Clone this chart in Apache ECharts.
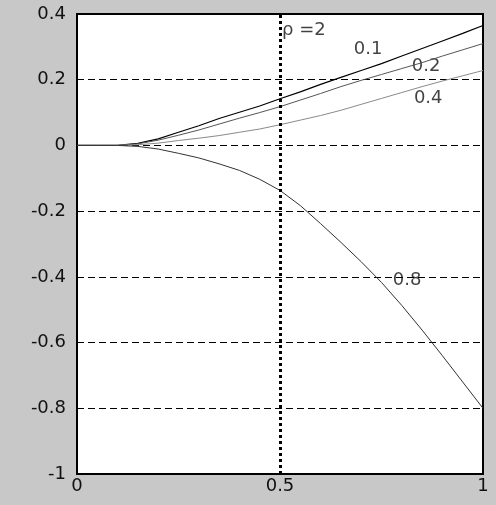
<!DOCTYPE html>
<html>
<head>
<meta charset="utf-8">
<script src="https://cdn.jsdelivr.net/npm/echarts@6/dist/echarts.min.js"></script>
<style>
  html, body { margin: 0; padding: 0; background: #c8c8c8; }
  #chart { width: 496px; height: 505px; }
</style>
</head>
<body>
<div id="chart"></div>
<script>
// x positions (shared by all curves)
const xs = [0, 0.05, 0.1, 0.15, 0.2, 0.25, 0.3, 0.35, 0.4, 0.45, 0.5,
            0.55, 0.6, 0.65, 0.7, 0.75, 0.8, 0.85, 0.9, 0.95, 1];
// curves, one per parameter value
const curve01 = [0, 0, 0, 0.006, 0.02, 0.04, 0.06, 0.082, 0.101, 0.12, 0.142,
                 0.163, 0.186, 0.207, 0.228, 0.249, 0.272, 0.295, 0.318, 0.341, 0.365];
const curve02 = [0, 0, 0, 0.005, 0.016, 0.031, 0.047, 0.065, 0.083, 0.1, 0.118,
                 0.138, 0.158, 0.179, 0.198, 0.216, 0.234, 0.252, 0.272, 0.291, 0.31];
const curve04 = [0, 0, 0, 0.002, 0.007, 0.015, 0.022, 0.03, 0.04, 0.05, 0.063,
                 0.077, 0.091, 0.107, 0.125, 0.143, 0.161, 0.179, 0.196, 0.212, 0.228];
const curve08 = [0, 0, 0, -0.003, -0.011, -0.024, -0.038, -0.056, -0.076, -0.103, -0.137,
                 -0.183, -0.238, -0.295, -0.354, -0.417, -0.487, -0.562, -0.64, -0.72, -0.8];
// in-plot annotations (data coordinates)
const annoText = ['\u03c1 =2', '0.1', '0.2', '0.4', '0.8'];
const annoX = [0.559, 0.717, 0.86, 0.865, 0.813];
const annoY = [0.35, 0.292, 0.24, 0.143, -0.411];

const pairs = (ys) => xs.map((x, i) => [x, ys[i]]);

const font = 'DejaVu Sans';
const myChart = echarts.init(document.getElementById('chart'));

const option = {
  backgroundColor: '#c8c8c8',
  animation: false,
  grid: {
    left: 77, right: 13, top: 14, bottom: 31,
    show: true,
    backgroundColor: '#ffffff',
    borderColor: '#000',
    borderWidth: 2
  },
  xAxis: {
    type: 'value',
    min: 0, max: 1, interval: 0.5,
    axisLine: { show: false },
    axisTick: { show: false },
    splitLine: { show: false },
    axisLabel: { color: '#111', fontFamily: font, fontSize: 18, margin: 3 }
  },
  yAxis: {
    type: 'value',
    min: -1, max: 0.4, interval: 0.2,
    axisLine: { show: false },
    axisTick: { show: false },
    axisLabel: { color: '#111', fontFamily: font, fontSize: 18, margin: 11 },
    splitLine: {
      lineStyle: { color: '#000', width: 1, type: [7, 4] }
    }
  },
  series: [
    {
      name: '0.1', type: 'line', data: pairs(curve01),
      symbol: 'none', lineStyle: { color: '#000', width: 1.2 },
      markLine: {
        silent: true, symbol: 'none', label: { show: false },
        lineStyle: { color: '#000', width: 3, type: [3, 3] },
        data: [{ xAxis: 0.5 }]
      }
    },
    { name: '0.2', type: 'line', data: pairs(curve02),
      symbol: 'none', lineStyle: { color: '#555', width: 1 } },
    { name: '0.4', type: 'line', data: pairs(curve04),
      symbol: 'none', lineStyle: { color: '#8a8a8a', width: 1 } },
    { name: '0.8', type: 'line', data: pairs(curve08),
      symbol: 'none', lineStyle: { color: '#333', width: 1 } },
    {
      name: 'labels', type: 'scatter', symbolSize: 0, silent: true,
      data: annoText.map((t, i) => ({ value: [annoX[i], annoY[i]], name: t })),
      label: {
        show: true, position: 'inside', formatter: '{b}',
        color: '#111', fontFamily: font, fontSize: 18
      }
    }
  ]
};
myChart.setOption(option);
</script>
</body>
</html>
